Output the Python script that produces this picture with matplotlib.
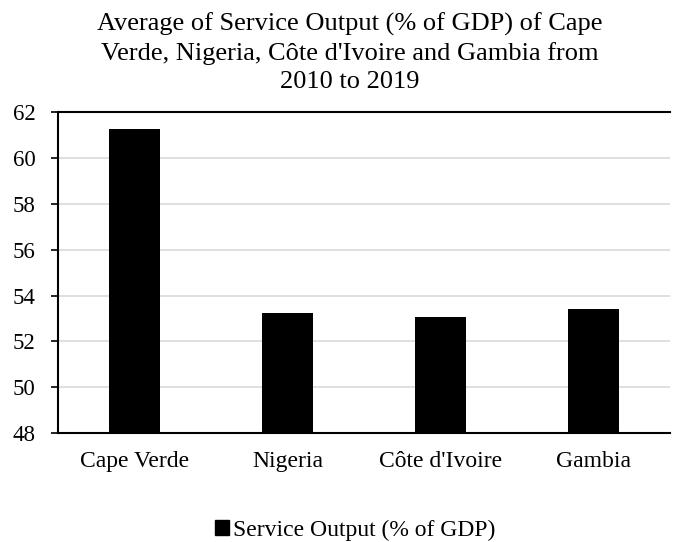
import matplotlib
matplotlib.use("Agg")
import matplotlib.pyplot as plt
from matplotlib.patches import Patch

categories = ["Cape Verde", "Nigeria", "Côte d'Ivoire", "Gambia"]
values = [61.27, 53.25, 53.08, 53.42]
series_name = "Service Output (% of GDP)"
title = "Average of Service Output (% of GDP) of Cape\nVerde, Nigeria, Côte d'Ivoire and Gambia from\n2010 to 2019"

plt.rcParams['font.family'] = ['Liberation Serif', 'DejaVu Serif']

fig = plt.figure(figsize=(6.73, 5.42), dpi=100)
ax = fig.add_axes([0.086, 0.201, 0.91, 0.592])

x = range(len(categories))
ax.bar(x, values, width=0.33, color='black', zorder=3)
ax.set_ylim(48, 62)
ax.set_xlim(-0.5, len(categories) - 0.5)
ax.set_yticks(range(48, 63, 2))
ax.set_xticks(list(x))
ax.set_xticklabels(categories, fontsize=17)
ax.tick_params(axis='y', labelsize=16.5, length=5, width=1.2, direction='out', pad=11)
ax.tick_params(axis='x', length=0, pad=13)
ax.yaxis.grid(True, color='#d9d9d9', linewidth=1.2, zorder=0)
ax.spines['right'].set_visible(False)
for s in ['left', 'bottom', 'top']:
    ax.spines[s].set_color('black')
    ax.spines[s].set_linewidth(1.5)

fig.text(0.52, 0.977, title, ha='center', va='top', fontsize=19, linespacing=1.36)

handles = [Patch(facecolor='black', edgecolor='black', label=series_name)]
fig.legend(handles=handles, loc='center', bbox_to_anchor=(0.528, 0.022), frameon=False,
           fontsize=17, handlelength=0.6, handleheight=0.6, handletextpad=0.15,
           borderpad=0, borderaxespad=0)

fig.savefig("out.png", dpi=100)
